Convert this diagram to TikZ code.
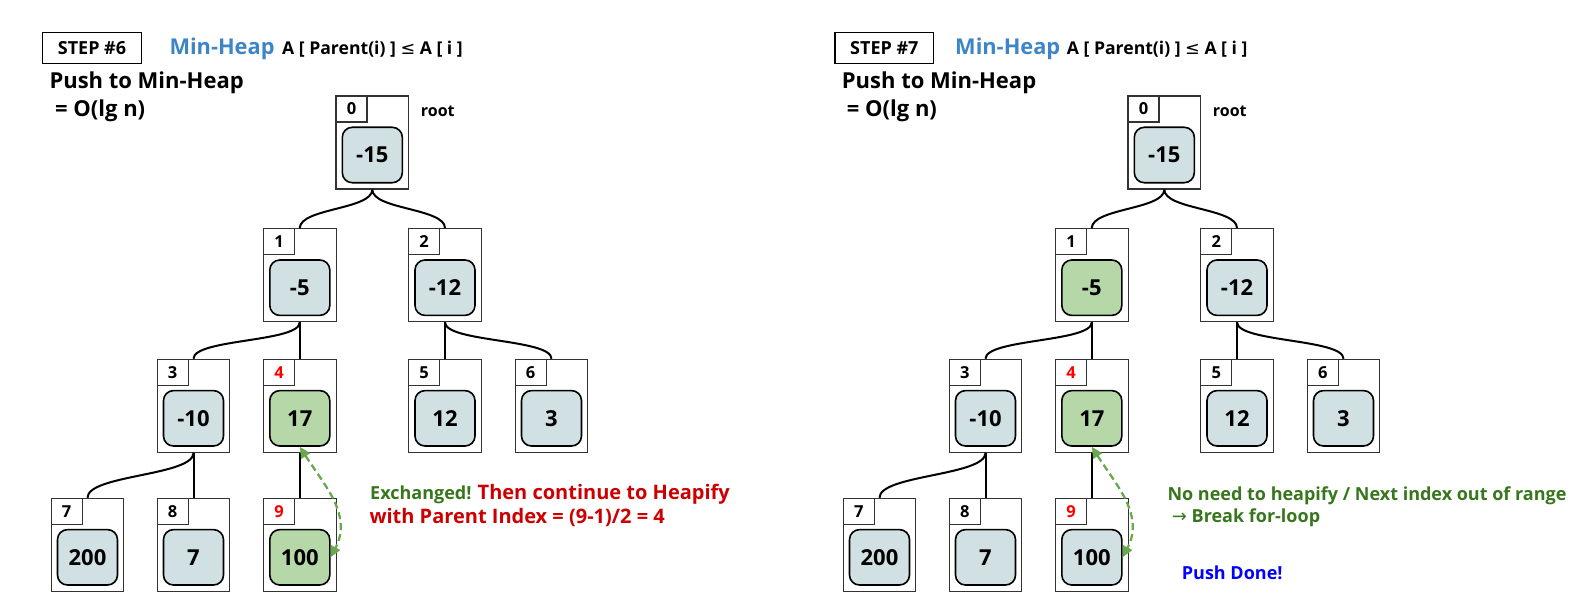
\documentclass[tikz,border=0pt]{standalone}
\usepackage{fontspec}
\setmainfont{Open Sans}
\newfontfamily\symfont{DejaVu Sans}
\usetikzlibrary{arrows.meta,calc}
\definecolor{cellfill}{HTML}{D0E0E3}
\definecolor{hotfill}{HTML}{B6D7A8}
\definecolor{heapblue}{HTML}{3D85C6}
\definecolor{txtgreen}{HTML}{38761D}
\definecolor{txtred}{HTML}{CC0000}
\definecolor{idxred}{HTML}{FF0000}
\definecolor{arrowgreen}{HTML}{6AA84F}
\definecolor{doneblue}{HTML}{0000FF}
\tikzset{
  outerbox/.style={draw=black!80,line width=1.1pt,fill=white,minimum width=72.6pt,minimum height=93pt,inner sep=0pt},
  idxbox/.style={draw=black!80,line width=1.1pt,fill=white,minimum width=31pt,minimum height=26pt,inner sep=0pt,anchor=north west,font=\fontsize{16.5}{18}\selectfont\bfseries},
  valbox/.style={draw=black,line width=1.6pt,rounded corners=10pt,minimum width=60pt,minimum height=55.4pt,inner sep=0pt,font=\fontsize{22}{26}\selectfont\bfseries},
  edge/.style={line width=2pt,black},
  curvedge/.style={line width=2pt,black,out=-90,in=90,distance=20pt},
  swaparrow/.style={line width=2.3pt,draw=arrowgreen,dash pattern=on 7pt off 4pt,{Triangle[length=11pt,width=10pt]}-{Triangle[length=11pt,width=10pt]}},
  txt/.style={inner sep=0pt,anchor=base west,font=\bfseries},
  stepbox/.style={draw=black,line width=1.3pt,minimum width=98.6pt,minimum height=31pt,inner sep=0pt,font=\fontsize{18}{20}\selectfont\bfseries},
}
\newcommand\heapnode[7]{%
  \node[outerbox] (#1) at (#2,-#3-46.5) {};
  \node[idxbox,text=#6] (#1i) at (#1.north west) {#4};
  \node[valbox,fill=#7] (#1v) at (#2,-#3-59) {#5};
}
\begin{document}
\begin{tikzpicture}[x=1pt,y=1pt]
\useasboundingbox (0,0) rectangle (1586,-615);
% ---------------- left: step 6
\node[stepbox] (s6) at (92,-48.2) {STEP \#6};
\node[txt,text=heapblue,font=\fontsize{21.8}{26}\selectfont\bfseries] (mh6) at (169.3,-55) {Min-Heap};
\node[txt,font=\fontsize{17.6}{19}\selectfont\bfseries] (rule6) at (282,-55) {A [ Parent(i) ] {\symfont\mdseries ≤} A [ i ]};
\node[txt,font=\fontsize{22}{26}\selectfont\bfseries] (push6) at (49.3,-88.3) {Push to Min-Heap};
\node[txt,font=\fontsize{22}{26}\selectfont\bfseries] (cost6) at (55,-116.7) {= O(lg n)};
\node[txt,font=\fontsize{16}{18}\selectfont\bfseries] (root6) at (420.7,-116.7) {root};

\heapnode{La}{372.3}{96}{0}{-15}{black}{cellfill}
\heapnode{Lb}{299.8}{228.7}{1}{-5}{black}{cellfill}
\heapnode{Lc}{445}{228.7}{2}{-12}{black}{cellfill}
\heapnode{Ld}{193.5}{359.3}{3}{-10}{black}{cellfill}
\heapnode{Le}{299.8}{359.3}{4}{17}{idxred}{hotfill}
\heapnode{Lf}{445}{359.3}{5}{12}{black}{cellfill}
\heapnode{Lg}{551.5}{359.3}{6}{3}{black}{cellfill}
\heapnode{Lh}{87.5}{498.3}{7}{200}{black}{cellfill}
\heapnode{Li}{193.5}{498.3}{8}{7}{black}{cellfill}
\heapnode{Lj}{299.8}{498.3}{9}{100}{idxred}{hotfill}

\draw[curvedge] (La.south) to (Lb.north);
\draw[curvedge] (La.south) to (Lc.north);
\draw[curvedge] (Lb.south) to (Ld.north);
\draw[edge] (Lb.south) -- (Le.north);
\draw[edge] (Lc.south) -- (Lf.north);
\draw[curvedge] (Lc.south) to (Lg.north);
\draw[curvedge,distance=23pt] (Ld.south) to (Lh.north);
\draw[edge] (Ld.south) -- (Li.north);
\draw[edge] (Lj.north) -- (Le.south);
\draw[swaparrow] (Lev.south) .. controls ($(Lev.south)+(25,-39)$) and ($(Ljv.east)+(22,42)$) .. (Ljv.east);

\node[txt,font=\fontsize{18}{20}\selectfont\bfseries] (note6a) at (370,-499.3) {\textcolor{txtgreen}{Exchanged!} \textcolor{txtred}{\fontsize{20}{22}\selectfont Then continue to Heapify}};
\node[txt,text=txtred,font=\fontsize{20}{22}\selectfont\bfseries] (note6b) at (369.3,-523.3) {with Parent Index = (9-1)/2 = 4};

% ---------------- right: step 7
\node[stepbox] (s7) at (884.3,-48.2) {STEP \#7};
\node[txt,text=heapblue,font=\fontsize{21.8}{26}\selectfont\bfseries] (mh7) at (955,-55) {Min-Heap};
\node[txt,font=\fontsize{17.6}{19}\selectfont\bfseries] (rule7) at (1066.7,-55) {A [ Parent(i) ] {\symfont\mdseries ≤} A [ i ]};
\node[txt,font=\fontsize{22}{26}\selectfont\bfseries] (push7) at (841.7,-88.3) {Push to Min-Heap};
\node[txt,font=\fontsize{22}{26}\selectfont\bfseries] (cost7) at (846.7,-116.7) {= O(lg n)};
\node[txt,font=\fontsize{16}{18}\selectfont\bfseries] (root7) at (1212.7,-116.7) {root};

\heapnode{Ra}{1164.3}{96}{0}{-15}{black}{cellfill}
\heapnode{Rb}{1091.8}{228.7}{1}{-5}{black}{hotfill}
\heapnode{Rc}{1237}{228.7}{2}{-12}{black}{cellfill}
\heapnode{Rd}{985.5}{359.3}{3}{-10}{black}{cellfill}
\heapnode{Re}{1091.8}{359.3}{4}{17}{idxred}{hotfill}
\heapnode{Rf}{1237}{359.3}{5}{12}{black}{cellfill}
\heapnode{Rg}{1343.5}{359.3}{6}{3}{black}{cellfill}
\heapnode{Rh}{879.5}{498.3}{7}{200}{black}{cellfill}
\heapnode{Ri}{985.5}{498.3}{8}{7}{black}{cellfill}
\heapnode{Rj}{1091.8}{498.3}{9}{100}{idxred}{cellfill}

\draw[curvedge] (Ra.south) to (Rb.north);
\draw[curvedge] (Ra.south) to (Rc.north);
\draw[curvedge] (Rb.south) to (Rd.north);
\draw[edge] (Rb.south) -- (Re.north);
\draw[edge] (Rc.south) -- (Rf.north);
\draw[curvedge] (Rc.south) to (Rg.north);
\draw[curvedge,distance=23pt] (Rd.south) to (Rh.north);
\draw[edge] (Rd.south) -- (Ri.north);
\draw[edge] (Rj.north) -- (Re.south);
\draw[swaparrow] (Rev.south) .. controls ($(Rev.south)+(25,-39)$) and ($(Rjv.east)+(22,42)$) .. (Rjv.east);

\node[txt,text=txtgreen,font=\fontsize{18}{20}\selectfont\bfseries] (note7a) at (1167.3,-500) {No need to heapify / Next index out of range};
\node[txt,text=txtgreen,font=\fontsize{18}{20}\selectfont\bfseries] (note7b) at (1171.7,-522.3) {{\symfont\mdseries →} Break for-loop};
\node[txt,text=doneblue,font=\fontsize{18}{20}\selectfont\bfseries] (done7) at (1181.7,-579) {Push Done!};
\end{tikzpicture}
\end{document}
